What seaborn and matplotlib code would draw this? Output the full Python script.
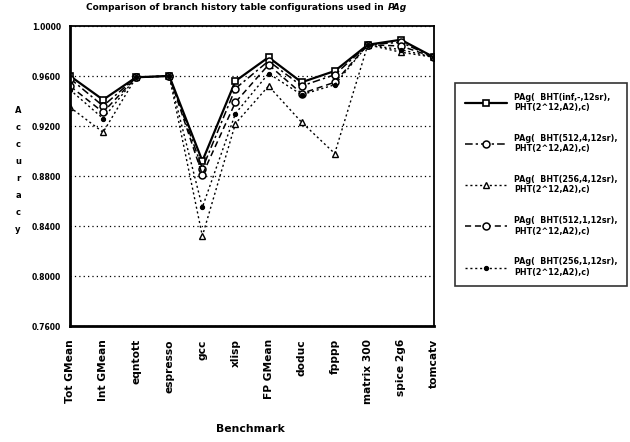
import matplotlib
matplotlib.use("Agg")
import matplotlib.pyplot as plt
import numpy as np
import pandas as pd
import seaborn as sns

benchmarks = ["Tot GMean", "Int GMean", "eqntott", "espresso", "gcc", "xlisp",
              "FP GMean", "doduc", "fpppp", "matrix 300", "spice 2g6", "tomcatv"]

bht_inf = [0.960, 0.941, 0.959, 0.960, 0.892, 0.956, 0.975, 0.955, 0.964, 0.985, 0.989, 0.975]
bht_512_4 = [0.958, 0.936, 0.959, 0.960, 0.886, 0.950, 0.972, 0.952, 0.961, 0.985, 0.987, 0.975]
bht_256_4 = [0.935, 0.915, 0.959, 0.960, 0.832, 0.922, 0.952, 0.923, 0.898, 0.985, 0.979, 0.975]
bht_512_1 = [0.952, 0.931, 0.959, 0.960, 0.881, 0.939, 0.969, 0.946, 0.955, 0.985, 0.984, 0.975]
bht_256_1 = [0.949, 0.926, 0.959, 0.960, 0.855, 0.930, 0.962, 0.945, 0.953, 0.985, 0.981, 0.975]

series_labels = [
    "PAg(  BHT(inf,-,12sr),\nPHT(2^12,A2),c)",
    "PAg(  BHT(512,4,12sr),\nPHT(2^12,A2),c)",
    "PAg(  BHT(256,4,12sr),\nPHT(2^12,A2),c)",
    "PAg(  BHT(512,1,12sr),\nPHT(2^12,A2),c)",
    "PAg(  BHT(256,1,12sr),\nPHT(2^12,A2),c)",
]
y_ticks = [0.76, 0.80, 0.84, 0.88, 0.92, 0.96, 1.00]


def main():
    sns.set_style("white")
    plt.rcParams["font.family"] = ["DejaVu Sans"]
    plt.rcParams["font.weight"] = "bold"
    for key in ["text.color", "axes.labelcolor", "xtick.color", "ytick.color"]:
        plt.rcParams[key] = "black"

    fig = plt.figure(figsize=(6.3, 4.42), dpi=100)
    ax = fig.add_axes([70 / 630, 1 - 326 / 442, 364 / 630, 300 / 442])

    all_values = [bht_inf, bht_512_4, bht_256_4, bht_512_1, bht_256_1]
    styles = [
        dict(linestyle="-", lw=1.6, marker="s", ms=5, mfc="white", mec="black", mew=1.2),
        dict(linestyle=(0, (5, 2, 1.5, 2)), lw=1.1, marker="o", ms=5, mfc="white", mec="black", mew=1.1),
        dict(linestyle=(0, (1.5, 2)), lw=1.0, marker="^", ms=5, mfc="white", mec="black", mew=1.0),
        dict(linestyle=(0, (4, 2.5)), lw=1.1, marker="o", ms=5, mfc="white", mec="black", mew=1.1),
        dict(linestyle=(0, (1.5, 2)), lw=1.0, marker="o", ms=3, mfc="black", mec="black", mew=0.8),
    ]

    for values, label, st in zip(all_values, series_labels, styles):
        df = pd.DataFrame({"benchmark": benchmarks, "accuracy": values})
        sns.lineplot(data=df, x="benchmark", y="accuracy", sort=False,
                     color="black", label=label, ax=ax, **st)

    ax.set_ylim(0.76, 1.0)
    ax.set_xlim(0, len(benchmarks) - 1)
    ax.set_yticks(y_ticks)
    ax.set_yticklabels([f"{v:.4f}" for v in y_ticks], fontsize=5.5, fontweight="bold")
    ax.set_xticks(range(len(benchmarks)))
    ax.set_xticklabels(benchmarks, rotation=90, fontsize=7.7, fontweight="bold")
    ax.set_xlabel("")
    ax.set_ylabel("")
    ax.tick_params(axis="both", direction="inout", length=5, width=1, color="black", pad=4)
    ax.tick_params(axis="x", pad=7)

    ax.yaxis.grid(True, linestyle=(0, (1, 2.5)), color="black", lw=0.9)
    ax.xaxis.grid(False)
    for side in ["left", "bottom"]:
        ax.spines[side].set_linewidth(2.0)
        ax.spines[side].set_color("black")
    for side in ["top", "right"]:
        ax.spines[side].set_linewidth(1.3)
        ax.spines[side].set_color("black")

    # title, with the italic PAg at the end
    fig.text(387 / 630, 1 - 8 / 442, "Comparison of branch history table configurations used in ",
             ha="right", va="center", fontsize=6.5, fontweight="bold")
    fig.text(388 / 630, 1 - 8 / 442, "PAg", ha="left", va="center", fontsize=6.5,
             fontweight="bold", style="italic")

    fig.text(18 / 630, 1 - 170 / 442, "A\nc\nc\nu\nr\na\nc\ny", ha="center", va="center",
             fontsize=6, fontweight="bold", linespacing=2.15)
    fig.text(250 / 630, 1 - 429 / 442, "Benchmark", ha="center", va="center",
             fontsize=7.8, fontweight="bold")

    handles, labels = ax.get_legend_handles_labels()
    ax.legend_.remove()
    leg = fig.legend(handles, labels, loc="upper left",
                     bbox_to_anchor=(455 / 630, 1 - 83 / 442), fontsize=5.8,
                     frameon=True, fancybox=False, edgecolor="black",
                     handlelength=5.3, labelspacing=2.7, borderpad=1.2,
                     handletextpad=0.85, borderaxespad=0)
    leg.get_frame().set_linewidth(1.2)
    for t in leg.get_texts():
        t.set_fontweight("bold")

    fig.savefig("out.png", dpi=100)
    plt.close(fig)


if __name__ == "__main__":
    main()
